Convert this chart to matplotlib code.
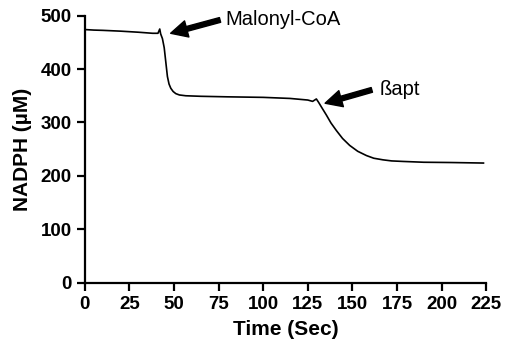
import matplotlib.pyplot as plt

# NADPH trace
time = [0, 5, 10, 20, 30, 38, 41, 42, 42.5, 43.5, 44.5, 45.4, 46.3, 47.2, 48.2,
        49.5, 51, 53, 56.6, 65, 80, 100, 115, 125, 127.7, 129.8, 131, 133,
        135.4, 138, 141, 144.5, 148.5, 153, 157.9, 162, 167.2, 172, 178.5,
        190, 205, 223.5]
nadph = [474, 473, 472.5, 471, 469, 467, 467, 475, 466, 457, 440, 413, 386,
         372, 364, 358, 354, 351.5, 350, 349, 348, 347, 345, 342, 339.5, 344,
         338, 327, 314, 299, 285, 270, 257, 246, 238, 233, 230, 228, 227,
         225.5, 225, 224]

xticks = [0, 25, 50, 75, 100, 125, 150, 175, 200, 225]
yticks = [0, 100, 200, 300, 400, 500]

plt.rcParams['font.family'] = ['Liberation Sans', 'DejaVu Sans']

fig = plt.figure(figsize=(5.08, 3.56), dpi=100)
ax = fig.add_axes([0.167, 0.206, 0.790, 0.750])
ax.plot(time, nadph, color='black', lw=1.2)

ax.set_xlim(0, 225)
ax.set_ylim(0, 500)
ax.set_xticks(xticks)
ax.set_yticks(yticks)
for s in ['top', 'right']:
    ax.spines[s].set_visible(False)
for s in ['left', 'bottom']:
    ax.spines[s].set_linewidth(1.6)
ax.tick_params(width=1.6, length=6, labelsize=13.5)
for lab in ax.get_xticklabels() + ax.get_yticklabels():
    lab.set_fontweight('bold')

ax.set_xlabel('Time (Sec)', fontsize=15, fontweight='bold', labelpad=5)
ax.set_ylabel('NADPH (µM)', fontsize=15, fontweight='bold', labelpad=6)

arrow = dict(facecolor='black', edgecolor='black', width=3.5, headwidth=12,
             headlength=12, shrink=0)
ax.annotate('', xy=(48.1, 467), xytext=(75.8, 492), arrowprops=arrow)
ax.text(78.6, 492, 'Malonyl-CoA', fontsize=14.5, va='center')
ax.annotate('', xy=(134.7, 336), xytext=(160.9, 361), arrowprops=arrow)
ax.text(165.5, 361, 'ßapt', fontsize=14.5, va='center')

fig.savefig('out.png', dpi=100)
